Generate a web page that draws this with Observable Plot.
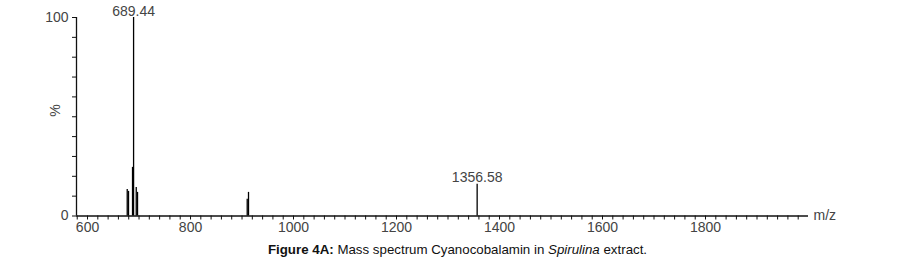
<!DOCTYPE html>
<html>
<head>
<meta charset="utf-8">
<script src="https://cdn.jsdelivr.net/npm/d3@7"></script>
<script src="https://cdn.jsdelivr.net/npm/@observablehq/plot@0.6"></script>
<style>
  body { margin: 0; background: #fff; font-family: "Liberation Sans", Arial, sans-serif; }
  #cap { width: 899px; text-align: center; font-size: 13.3px; color: #111; margin-top: 4px; padding-left: 16px; box-sizing: border-box; }
</style>
</head>
<body>
<div id="chart"></div>
<div id="cap"><b>Figure 4A:</b> Mass spectrum Cyanocobalamin in <i>Spirulina</i> extract.</div>
<script>
const mz        = [677.1, 679.6, 687.4, 689.44, 694.6, 697.1, 910.1, 912.6, 1356.58];
const intensity = [13.3, 12.4, 24.5, 100, 14.3, 11.9, 8.4, 11.9, 16];
const labelledPeaks = ["689.44", "1356.58"];
const xTicks = d3.range(580, 2000, 20);
const xTickLabels = [600, 800, 1000, 1200, 1400, 1600, 1800];
const yTicks = d3.range(0, 101, 10);
const yTickLabels = [0, 100];

const peaks = mz.map((m, i) => ({mz: m, i: intensity[i]}));
const labelled = peaks.filter(p => labelledPeaks.includes(p.mz.toFixed(2)));
const xMin = 578.6, xMax = 2000;

const chart = Plot.plot({
  width: 899,
  height: 238,
  marginLeft: 76,
  marginRight: 91,
  marginTop: 17,
  marginBottom: 22.5,
  style: {fontFamily: "'Liberation Sans', Arial, sans-serif", fontSize: "14px", color: "#222"},
  x: {domain: [xMin, xMax]},
  y: {domain: [0, 100]},
  marks: [
    Plot.axisX({ticks: xTicks, tickFormat: d => xTickLabels.includes(d) ? String(d) : "", tickSize: 4, tickPadding: 2, label: null, fill: "#444", stroke: "#111"}),
    Plot.axisY({ticks: yTicks, tickFormat: d => yTickLabels.includes(d) ? String(d) : "", tickSize: 4, tickPadding: 4, label: null, fill: "#444", stroke: "#111"}),
    Plot.ruleY([0], {stroke: "#111", strokeWidth: 1.3}),
    Plot.ruleX([xMin], {y1: 0, y2: 100, stroke: "#111", strokeWidth: 1.3}),
    Plot.ruleX(peaks, {x: "mz", y1: 0, y2: "i", stroke: "#000", strokeWidth: 1.3}),
    Plot.text(labelled, {x: "mz", y: "i", text: d => d.mz.toFixed(2), lineAnchor: "bottom", dy: -2, fill: "#444", fontSize: 14}),
    Plot.text(["%"], {frameAnchor: "left", dx: -21, rotate: -90, fill: "#444", fontSize: 14}),
    Plot.text(["m/z"], {frameAnchor: "bottom-right", textAnchor: "start", dx: 5, dy: 4, fill: "#444", fontSize: 14})
  ]
});
document.getElementById("chart").append(chart);
</script>
</body>
</html>
